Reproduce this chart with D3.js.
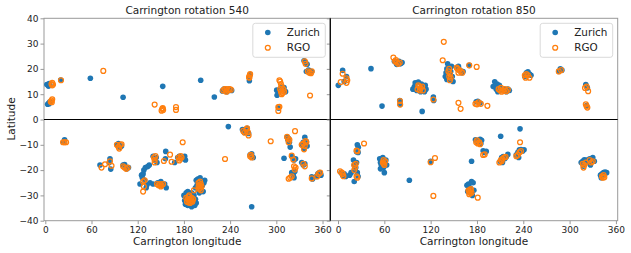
<!DOCTYPE html>
<html><head><meta charset="utf-8">
<script src="https://cdn.jsdelivr.net/npm/d3@7"></script>
<style>body{margin:0;background:#fff}svg{display:block}text{font-family:"DejaVu Sans",sans-serif;fill:#222}</style>
</head><body>
<svg id="c" width="631" height="253"></svg>
<script>
const titles = ["Carrington rotation 540", "Carrington rotation 850"];
const xTicks = [0, 60, 120, 180, 240, 300, 360];
const yTicks = [-40, -30, -20, -10, 0, 10, 20, 30, 40];
const seriesNames = ["Zurich", "RGO"];
const colors = ["#1f77b4", "#ff7f0e"];

const zurich540 = [
[2,13.8],[4,13.2],[5,14.2],[6,13.5],[3,6],[4.5,6.5],[6,7],[5,6.2],[20,15.6],[58.5,16.3],[101,8.8],[152.5,13.1],[201.8,15.5],[219.5,8.9],
[230,11.3],[232,12],[234,11.5],[236,11],[238,12],[240,11.8],[242,11.5],[265,15.3],[265,16.5],[266,17.8],
[300.5,11.6],[301,9.6],[303,10.5],[306,12.5],[310,12.6],[312,11],[303,4.5],
[336,23.2],[338,22.5],[340,21.8],[339,19],[342,19.5],[344,18.5],[346,19],
[25,-8],[24,-9],[71,-18],[84,-15.5],[85,-19.6],[83,-17],[93,-10],[95,-9.5],[97,-11],[99,-10.5],
[101,-18],[103,-17.8],[106,-19.5],[108,-19],
[123,-25.5],[125,-22],[128,-20],[130,-19],[129,-24],[131,-27],[133,-18.6],[135,-18],[127,-21.5],[126,-23],[132,-25.8],
[140,-14.5],[142,-16],[144,-15],[145,-17],[156.4,-12.6],[156,-15.5],[168,-17],
[172,-15],[174,-14.5],[178,-15.5],[181,-14.5],[182,-16],
[136,-25],[140,-25.5],[146,-25],[150,-24.5],[152,-26],[155,-25.5],[157,-27],
[180,-30],[181,-32],[182,-33.5],[183,-29],[184,-31],[185,-34],[186,-30.5],[187,-32.5],[188,-29.5],[189,-33],[190,-34.5],[191,-31],[192,-32],[193,-30],[194,-34],[195,-31.5],[196,-33],[185,-28.5],[190,-29],
[196,-24],[197,-26],[198,-23.5],[199,-28],[200,-25],[201,-23],[202,-27],[203,-24.5],[204,-26],[205,-28.5],[206,-25],[207,-24],[200,-29],[195,-27],
[237.7,-2.8],[256,-4],[258,-5],[260,-4.5],[262,-3.5],[264,-5.5],[266,-14],[268,-13.6],[270,-15],[268,-34.5],
[310,-15.3],[314,-7],[316,-7.5],[317,-9],[318,-10.9],[315,-8],[320,-14.5],[323,-16],[325,-15.5],
[320,-21],[322,-22],[324,-20.6],[323,-23],[333,-10],[335,-9],[337,-7],[339,-8.7],[340,-10.5],[336,-11.5],
[333,-17],[335,-18],[337,-17.5],[346,-22.6],[347,-23.5],[352,-22.5],[354,-21.5],[356,-21],[358,-22]
];
const rgo540 = [
[8,14],[9,14.5],[10,13.8],[9,13.5],[7,7],[8,7.5],[9,8],[8.5,6.8],[20.4,15.5],[75.3,19.2],[142,5.9],
[151,3.5],[152,4.2],[153,3.8],[152.5,4.5],[169.7,4.9],[169.7,3.8],
[231,11.5],[233,12],[235,12],[237,11.5],[239,12],[241,11.8],[235,11],[265,16.5],[265.5,17.5],[266,18],[264.5,16.8],
[304,15.5],[305,15],[306,14],[307,13],[305,12],[306,11],[308,10.5],[310,11],[309,12],[307,10],
[302.6,4.9],[302.6,3.4],[304,5],[337,23],[338,22],[341,19],[343,18.5],[345,18.3],[346,19],[343.8,9.5],
[23,-9],[25,-9],[27,-9],[73,-19],[77.5,-17.7],[84,-16.5],[86,-18.3],[93,-10],[95,-10.8],[97,-10],[99,-9.8],[96,-11.5],
[101,-18.5],[103,-19],[105,-19.5],[107,-19],[127,-24.5],[129,-24],[128,-26.5],[127,-28.5],
[141,-15],[142,-16],[143,-14.5],[142,-17],[154,-16.4],[162,-13.9],[164,-16.7],
[173,-15],[175,-15.5],[177,-15],[174,-16.2],[176,-14.5],[178.4,-9],
[145,-25.5],[147,-26],[149,-25.5],[151,-26],[153,-25.5],[150,-26.5],
[183,-31],[185,-31.5],[187,-32],[189,-31.5],[191,-32.5],[186,-30.5],[188,-33],[190,-31],[184,-32.5],[192,-31.5],[187,-30],[193,-28],[186,-32.8],[190,-32.2],
[199,-25],[200,-26],[201,-27],[202,-25.5],[200,-27.5],[203,-26.5],[199,-26.5],[201,-24.5],[202,-28],
[233.4,-15.6],[257,-4.5],[259,-5.2],[261,-4],[263,-5],[264,-6.3],[262,-3.5],[266,-14.5],[268,-15],[267,-14],
[292.7,-8.6],[315,-7.5],[317,-8],[316,-9],[314,-6.8],[320,-14.3],[322,-15.8],[324.3,-4.6],
[323,-18.5],[325,-19],[324,-19.8],[316,-23.4],[318,-23],[320,-22.5],
[333,-10],[335,-9.5],[337,-10.5],[339,-9],[336,-11.8],[338,-8.5],[335,-17.5],[337,-18.5],
[346,-23.3],[353,-22.5],[355,-21.5],[357,-21]
];
const zurich850 = [
[0.4,13.5],[6,19.4],[11,17],[8,15],[42.7,20.1],[57,5.3],[80,7.5],[80.5,6],
[73,23],[75,22.5],[77,22],[79,23],[81,22],[83,22.5],[76,21.8],
[97,12],[99,13],[100,14.5],[102,11.5],[104,14.8],[106,12],[108,14],[110,12.5],[112,11],[114,12],[101,12.5],[107,11],[113,13.5],
[109,3.2],[123.5,8.9],[124,7.5],
[139,17],[140,18.5],[141,20],[142,22],[143,16],[145,15.5],[146,19],[147,21],[148,17],[149,15],[141,15.8],[144,20.8],
[154,20.5],[156,21],[158,19.5],[160,18.5],[162,19],[170,21.4],[179,7],[181,7.2],[184,6.5],
[201,13],[203,14.9],[205,12],[207,11],[209,13.5],[211,12],[213,11.5],[215,12],[218,11],[220,12],[222,11.5],[206,14],
[242,17],[244,18.5],[246,18.9],[248,18],[250,17.5],[286,19],[288,20],[290,19.5],[321,13.8],[323,12.5],[322,5.5],
[26.3,-11],[24,-12.7],[25,-10],[26,-13],[20,-16],[21,-18],[22,-20],[24,-17],[25,-21],[26,-22.5],[23,-19],[21,-24.5],
[4,-21],[6,-22],[8,-21.5],[10,-22.5],[15,-22],[17,-21],
[54,-15.5],[55,-17],[56,-18],[57,-16.5],[58,-15],[59,-19],[60,-21],[61,-17],[62,-16],[63,-18],[55,-19.5],
[92.4,-24],[120,-16.5],[173,-16.5],
[167,-26],[169,-25.5],[171,-27],[173,-24.5],[175,-25],[176,-28],[168,-28.5],[172,-29],[174,-30],
[178,-8],[180,-8.5],[182,-9],[184,-7.8],[185,-9.5],[186,-8.2],[188,-12.4],[190,-13],[192,-12.6],
[210.7,-6.6],[235.8,-3.7],
[210,-16.5],[212,-15],[214,-14.6],[216,-15.5],[218,-14.7],[220,-13.8],[213,-17],
[231,-14],[233,-13],[235,-12],[237,-11.9],[239,-12.5],[241,-12],[234,-15],
[315,-17],[317,-16.5],[319,-15.9],[322,-16],[324,-17],[326,-15.5],[328,-16.5],[330,-15],[332,-16.5],[318,-18.5],[327,-18],
[340,-22],[342,-21.5],[344,-21],[346,-20.8],[348,-21],[341,-23]
];
const rgo850 = [
[3.5,14.8],[6,18.1],[11,14.5],[11,16.3],[12,15.5],
[71.7,24.5],[74,23],[76,22.5],[78,22],[80,22.5],[75,23.5],[80.3,7.3],[80.5,5.9],
[103,12],[105,13],[107,12.5],[109,13],[106,11.5],[110,11.5],[104,13.5],[123.5,7.9],
[137,30.7],[135.6,23.4],[143,19],[144,17],[145,15.5],[145,18],[146,16.5],[144,20],
[153.7,20.5],[155,20],[157,19.5],[159,19],[161,18.5],[156,18.5],[156,6.6],[158.8,4.2],
[170,21.4],[179.6,20.8],[178,6.2],[180,6],[182,6.8],[185,6.2],[193.5,5.4],
[208,12],[210,11.5],[212,11],[214,11.5],[216,12],[218,11.2],[220,11.8],[211,12.5],
[242,17.5],[244,18],[246,17.5],[248,16.5],[243,16.5],[286,19],[289,19.5],
[320,12.5],[322,13],[324,11.2],[321,6],[322,5.2],[323,4.7],
[2.6,-20.5],[5,-21],[6,-21.5],[7,-22.4],[33.7,-9.5],[25,-12.5],[24,-12.3],
[21,-18],[22,-19],[23,-17.5],[21,-20],[24,-22.5],[25,-23],
[58,-17],[59,-17.5],[60,-18],[61,-16.5],[59,-16],
[120,-16.9],[125.6,-15.2],[123.5,-30.2],
[169,-28],[170,-28.5],[171,-29],[172,-28],[173,-29],[170,-29.5],[172,-27.5],[181,-30.9],
[179,-9],[181,-9.5],[183,-9],[180,-8.2],[184,-9.8],[188,-14],[190,-13.8],[235.8,-9],
[209,-17],[211,-16],[213,-15.5],[215,-15],[217,-14.8],[212,-16.5],
[231,-14.5],[233,-14],[235,-13],[237,-12.5],
[317,-17.5],[319,-18],[321,-17],[326,-16],[328,-17],[330,-16.5],[318,-19],
[342,-22.5],[344,-22],[343,-23],[345,-22.8]
];

const panels = [
  {title: titles[0], dom: [-1.7, 370.1], range: [44, 330.3], series: [zurich540, rgo540], ylabels: true},
  {title: titles[1], dom: [-10, 362.3], range: [330.3, 617.7], series: [zurich850, rgo850], ylabels: false}
];
const svg = d3.select("#c");
const y = d3.scaleLinear().domain([-40, 40]).range([220.7, 18.3]);
const plotTop = 18.3, plotBot = 220.7;
const fmt = d => d < 0 ? "\u2212" + Math.abs(d) : String(d);

panels.forEach((p, i) => {
  const x = d3.scaleLinear().domain(p.dom).range(p.range);
  const g = svg.append("g");
  g.append("rect").attr("x", p.range[0]).attr("y", plotTop).attr("width", p.range[1]-p.range[0]).attr("height", plotBot-plotTop)
    .attr("fill", "none").attr("stroke", "#999").attr("stroke-width", 1);
  const xa = g.append("g").attr("transform", `translate(0,${plotBot})`)
    .call(d3.axisBottom(x).tickValues(xTicks).tickSize(3.5).tickPadding(2).tickFormat(fmt));
  xa.select(".domain").remove();
  xa.selectAll("line").attr("stroke", "#999");
  xa.selectAll("text").attr("font-size", 9).attr("font-family", "DejaVu Sans").attr("fill", "#222");
  const ya = g.append("g").attr("transform", `translate(${p.range[0]},0)`)
    .call(d3.axisLeft(y).tickValues(yTicks).tickSize(3.5).tickPadding(2).tickFormat(p.ylabels ? fmt : () => ""));
  ya.select(".domain").remove();
  ya.selectAll("line").attr("stroke", "#999");
  ya.selectAll("text").attr("font-size", 9).attr("font-family", "DejaVu Sans").attr("fill", "#222");
  g.append("text").attr("x", (p.range[0]+p.range[1])/2).attr("y", 14).attr("text-anchor", "middle")
    .attr("font-size", 10.5).text(p.title);
  g.append("text").attr("x", (p.range[0]+p.range[1])/2).attr("y", 245).attr("text-anchor", "middle")
    .attr("font-size", 10.5).text("Carrington longitude");
  const clip = "clip" + i;
  svg.append("clipPath").attr("id", clip).append("rect").attr("x", p.range[0]).attr("y", plotTop).attr("width", p.range[1]-p.range[0]).attr("height", plotBot-plotTop);
  const pg = g.append("g").attr("clip-path", `url(#${clip})`);
  pg.selectAll("circle.z").data(p.series[0]).join("circle").attr("class", "z")
    .attr("cx", d => x(d[0])).attr("cy", d => y(d[1])).attr("r", 2.8).attr("fill", colors[0]);
  pg.selectAll("circle.r").data(p.series[1]).join("circle").attr("class", "r")
    .attr("cx", d => x(d[0])).attr("cy", d => y(d[1])).attr("r", 2.45).attr("fill", "none")
    .attr("stroke", colors[1]).attr("stroke-width", 1.25);
  g.append("line").attr("x1", p.range[0]).attr("x2", p.range[1]).attr("y1", y(0)).attr("y2", y(0))
    .attr("stroke", "#000").attr("stroke-width", 1.2);
  const lx = p.range[1] - 5 - 72.5, ly = plotTop + 5;
  const lg = g.append("g");
  lg.append("rect").attr("x", lx).attr("y", ly).attr("width", 72.5).attr("height", 34).attr("rx", 2.5)
    .attr("fill", "#fff").attr("fill-opacity", 0.8).attr("stroke", "#d0d0d0").attr("stroke-width", 0.8);
  lg.append("circle").attr("cx", lx + 15).attr("cy", ly + 9.2).attr("r", 2.8).attr("fill", colors[0]);
  lg.append("circle").attr("cx", lx + 15).attr("cy", ly + 24.4).attr("r", 2.45).attr("fill", "none").attr("stroke", colors[1]).attr("stroke-width", 1.25);
  lg.append("text").attr("x", lx + 34).attr("y", ly + 12.8).attr("font-size", 10.4).text(seriesNames[0]);
  lg.append("text").attr("x", lx + 34).attr("y", ly + 28).attr("font-size", 10.4).text(seriesNames[1]);
});
svg.append("line").attr("x1", 330.3).attr("x2", 330.3).attr("y1", plotTop).attr("y2", plotBot).attr("stroke", "#000").attr("stroke-width", 1.2);
svg.append("text").attr("transform", "translate(15,119) rotate(-90)").attr("text-anchor", "middle").attr("font-size", 10.5).text("Latitude");
</script>
</body></html>
